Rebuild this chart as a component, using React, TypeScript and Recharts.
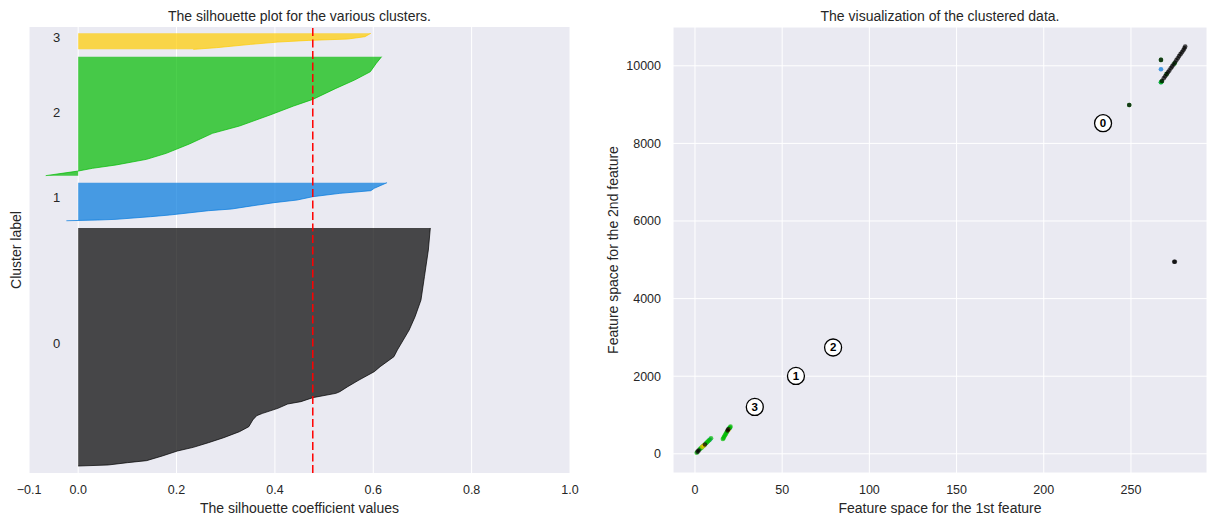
import React from 'react';
import {
  ComposedChart,
  ScatterChart,
  Area,
  Scatter,
  XAxis,
  YAxis,
  CartesianGrid,
  ReferenceLine,
} from 'recharts';

const FONT = '"Liberation Sans", Arial, sans-serif';
const INK = '#262626';
const PANEL = '#EAEAF2';
// nipy_spectral(i / 4) for the four clusters
const clusterColors = ['#000000', '#0077DD', '#00BB00', '#FFCC00'];
const clusterNames = ['0', '1', '2', '3'];

// --- silhouette plot: row (sample position) and sorted coefficient, per cluster
const cluster0Rows = [10, 11.5, 14.8, 17.7, 24.4, 31.6, 36.8, 43.5, 50.7, 59.3, 66.5, 76.1, 82.3, 85.6, 92.8, 99, 102.4, 108.1, 114.3, 116.7, 123.9, 133.4, 145.4, 152.6, 166.9, 176.5, 190.8, 205.2, 224.3, 248.2, 281.7, 320, 351.6];
const cluster0Values = [0.0, 0.061, 0.1, 0.139, 0.171, 0.202, 0.234, 0.265, 0.296, 0.328, 0.347, 0.355, 0.363, 0.375, 0.406, 0.426, 0.453, 0.477, 0.524, 0.532, 0.548, 0.571, 0.602, 0.614, 0.642, 0.649, 0.661, 0.673, 0.685, 0.697, 0.704, 0.712, 0.716];

const cluster1Rows = [362, 363, 364, 367.8, 370.2, 376.4, 378.8, 382.2, 387.9, 391.7, 396.5, 401.3, 405.1, 408.5, 416.6];
const cluster1Values = [-0.024, 0.04, 0.077, 0.147, 0.186, 0.265, 0.312, 0.343, 0.398, 0.445, 0.477, 0.532, 0.595, 0.602, 0.628];

const cluster2Rows = [426.7, 430, 433.3, 437.2, 442, 450.1, 458.7, 472.1, 487.4, 497.9, 513.7, 526.6, 536.1, 551.9, 563.9, 575.8, 587.8, 597.4];
const cluster2Values = [-0.066, -0.033, 0.0, 0.029, 0.077, 0.139, 0.179, 0.226, 0.273, 0.328, 0.39, 0.438, 0.477, 0.524, 0.562, 0.594, 0.606, 0.617];

const cluster3Rows = [607.9, 610.3, 615.1, 618.4, 620.8, 622.7, 626.1, 630.9];
const cluster3Values = [0.234, 0.281, 0.351, 0.406, 0.469, 0.548, 0.583, 0.595];

const clusterLabelX = -0.044;
const clusterLabelRows = [186, 396, 517, 625];
const silhouetteAvg = 0.477;
const silhouetteTicks = [-0.1, 0, 0.2, 0.4, 0.6, 0.8, 1.0];

// --- clustered data (1st feature, 2nd feature) per cluster
const c0x = [1.5, 2.1, 5.7, 18.7, 19.1, 267.8, 268.8, 269.6, 270.4, 271.2, 272.0, 272.8, 273.6, 274.4, 275.2, 276.0, 276.8, 277.6, 278.4, 279.2, 280.0, 280.6, 281.1, 274.8, 275.2, 249.0, 267.2];
const c0y = [55, 85, 240, 600, 630, 9610, 9680, 9730, 9785, 9835, 9880, 9935, 9985, 10035, 10085, 10140, 10195, 10250, 10300, 10350, 10400, 10450, 10495, 4948, 4948, 8990, 10152];
const c1x = [267.2, 267.2, 8.6, 19.8];
const c1y = [9577, 9912, 370, 660];
const c2x = [1.0, 2.7, 3.3, 3.9, 4.5, 5.1, 6.3, 6.9, 7.5, 8.1, 9.2, 16.0, 16.4, 16.8, 17.2, 17.6, 18.0, 18.4, 19.6, 20.0, 20.4, 267.2, 267.6, 270.4, 275.0, 249.0, 267.2];
const c2y = [30, 115, 140, 165, 195, 215, 270, 295, 325, 350, 400, 380, 410, 445, 475, 510, 540, 570, 650, 675, 700, 9577, 9595, 9785, 10060, 8990, 10152];
const c3x = [4.2, 5.2, 19.2];
const c3y = [180, 222, 615];

const centerX = [234, 57.9, 79.2, 34.3];
const centerY = [8521, 2007, 2740, 1208];
const featXTicks = [0, 50, 100, 150, 200, 250];
const featYTicks = [0, 2000, 4000, 6000, 8000, 10000];

const silRows = [
  ...cluster0Rows.map((y, i) => ({ y, c0: cluster0Values[i] })),
  ...cluster1Rows.map((y, i) => ({ y, c1: cluster1Values[i] })),
  ...cluster2Rows.map((y, i) => ({ y, c2: cluster2Values[i] })),
  ...cluster3Rows.map((y, i) => ({ y, c3: cluster3Values[i] })),
];
const labelPoints = clusterNames.map((name, i) => ({ x: clusterLabelX, y: clusterLabelRows[i], name }));

const zip = (xs: number[], ys: number[]) => xs.map((x, i) => ({ x, y: ys[i] }));
const featurePoints = [zip(c0x, c0y), zip(c1x, c1y), zip(c2x, c2y), zip(c3x, c3y)];
const centers = clusterNames.map((name, i) => ({ x: centerX[i], y: centerY[i], name }));
// draw order: blue under green, black on top
const drawOrder = [1, 2, 3, 0];

const tickStyle = { fill: INK, fontSize: 12.5, fontFamily: FONT };
const labelStyle = { fill: INK, fontSize: 14, fontFamily: FONT };

const fmtSil = (v: number) => (v < 0 ? '\u2212' + Math.abs(v).toFixed(1) : v.toFixed(1));

function Title({ left, width, text }: { left: number; width: number; text: string }) {
  return (
    <div
      style={{
        position: 'absolute',
        left,
        top: 0,
        width,
        height: 32,
        lineHeight: '32px',
        textAlign: 'center',
        fontFamily: FONT,
        fontSize: 14,
        color: INK,
        whiteSpace: 'nowrap',
      }}
    >
      {text}
    </div>
  );
}

export default function App() {
  return (
    <div style={{ position: 'absolute', left: 0, top: 0, width: 1207, height: 515, background: '#fff', overflow: 'hidden' }}>
      <Title left={29} width={541} text="The silhouette plot for the various clusters." />
      <Title left={673} width={534} text="The visualization of the clustered data." />

      <div style={{ position: 'absolute', left: 0, top: 0 }}>
        <ComposedChart width={600} height={515} layout="vertical" data={silRows} margin={{ top: 27, right: 30, bottom: 0, left: 0 }}>
          <CartesianGrid horizontal={false} stroke="#ffffff" strokeWidth={1} fill={PANEL} />
          <XAxis
            type="number"
            dataKey="x"
            domain={[-0.1, 1]}
            ticks={silhouetteTicks}
            allowDataOverflow
            tickFormatter={fmtSil}
            tick={tickStyle}
            tickLine={false}
            axisLine={false}
            tickMargin={6}
            height={42}
            label={{ value: 'The silhouette coefficient values', position: 'insideBottom', offset: 2, ...labelStyle }}
          />
          <YAxis
            type="number"
            dataKey="y"
            domain={[0, 640]}
            reversed
            allowDataOverflow
            tick={false}
            tickLine={false}
            axisLine={false}
            width={29}
            label={{ value: 'Cluster label', angle: -90, position: 'insideLeft', offset: 16, style: { textAnchor: 'middle' }, ...labelStyle }}
          />
          {[0, 1, 2, 3].map((i) => (
            <Area
              key={i}
              type="linear"
              dataKey={`c${i}`}
              baseValue={0}
              stroke={clusterColors[i]}
              strokeOpacity={0.7}
              strokeWidth={1}
              fill={clusterColors[i]}
              fillOpacity={0.7}
              dot={false}
              activeDot={false}
              connectNulls={false}
              isAnimationActive={false}
            />
          ))}
          <ReferenceLine x={silhouetteAvg} stroke="#ff0000" strokeWidth={1.5} strokeDasharray="8 3.5" />
          <Scatter
            data={labelPoints}
            isAnimationActive={false}
            shape={(p: any) => (
              <text x={p.cx} y={p.cy} textAnchor="middle" dominantBaseline="central" fontSize={13} fontFamily={FONT} fill={INK}>
                {p.payload.name}
              </text>
            )}
          />
        </ComposedChart>
      </div>

      <div style={{ position: 'absolute', left: 600, top: 0 }}>
        <ScatterChart width={607} height={515} margin={{ top: 27, right: 0, bottom: 0, left: 0 }}>
          <CartesianGrid stroke="#ffffff" strokeWidth={1} fill={PANEL} />
          <XAxis
            type="number"
            dataKey="x"
            domain={[-12.6, 293.6]}
            ticks={featXTicks}
            allowDataOverflow
            tick={tickStyle}
            tickLine={false}
            axisLine={false}
            tickMargin={6}
            height={42}
            label={{ value: 'Feature space for the 1st feature', position: 'insideBottom', offset: 2, ...labelStyle }}
          />
          <YAxis
            type="number"
            dataKey="y"
            domain={[-495, 11000]}
            ticks={featYTicks}
            allowDataOverflow
            tick={tickStyle}
            tickLine={false}
            axisLine={false}
            tickMargin={6}
            width={73}
            label={{ value: 'Feature space for the 2nd feature', angle: -90, position: 'insideLeft', offset: 13, style: { textAnchor: 'middle' }, ...labelStyle }}
          />
          {drawOrder.map((c) => (
            <Scatter
              key={c}
              data={featurePoints[c]}
              isAnimationActive={false}
              shape={(p: any) => <circle cx={p.cx} cy={p.cy} r={2.3} fill={clusterColors[c]} fillOpacity={0.7} />}
            />
          ))}
          <Scatter
            data={centers}
            isAnimationActive={false}
            shape={(p: any) => (
              <g>
                <circle cx={p.cx} cy={p.cy} r={8.5} fill="#ffffff" stroke="#000000" strokeWidth={1.3} />
                <text x={p.cx} y={p.cy} textAnchor="middle" dominantBaseline="central" fontSize={11.5} fontWeight="bold" fontFamily={FONT} fill="#000000">
                  {p.payload.name}
                </text>
              </g>
            )}
          />
        </ScatterChart>
      </div>
    </div>
  );
}
